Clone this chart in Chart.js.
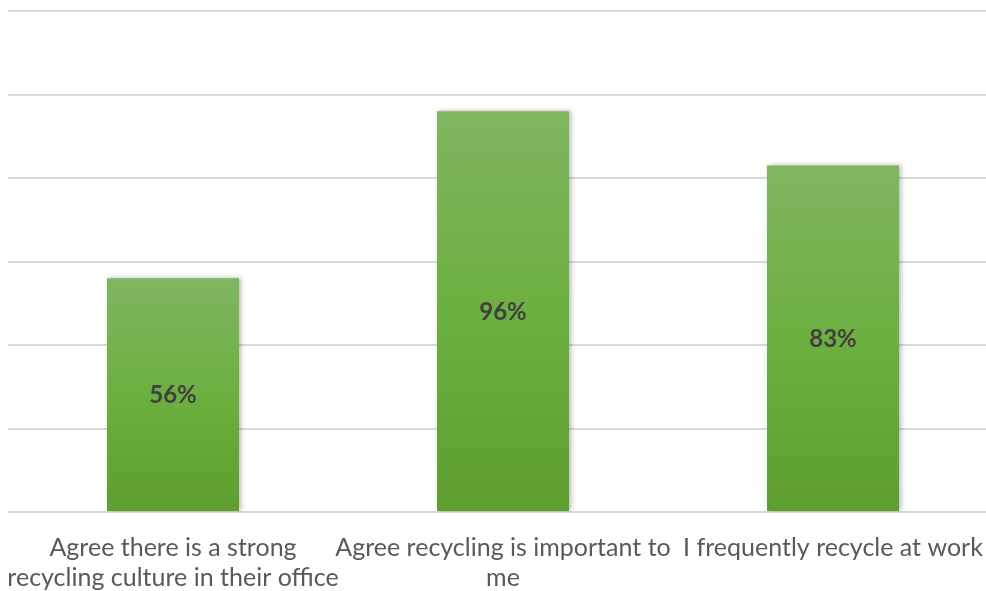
<!DOCTYPE html>
<html>
<head>
<meta charset="utf-8">
<script src="https://cdn.jsdelivr.net/npm/chart.js@4.4.0/dist/chart.umd.min.js"></script>
<style>
  html, body { margin: 0; padding: 0; background: #fff; overflow: hidden; }
  #wrap { position: absolute; left: 0; top: 0; width: 1000px; height: 600px; }
</style>
</head>
<body>
<div id="wrap"><canvas id="c"></canvas></div>
<script>
const categories = [
  ["Agree there is a strong", "recycling culture in their office"],
  ["Agree recycling is important to", "me"],
  ["I frequently recycle at work"]
];
const values = [0.56, 0.96, 0.83];
const valueLabels = ["56%", "96%", "83%"];
const yMax = 1.2;
const yStep = 0.2;

function barGradient(ctx) {
  const chart = ctx.chart;
  const sc = chart.scales && chart.scales.y;
  if (!chart.chartArea || !sc || ctx.type !== 'data') return '#6aab3e';
  const top = sc.getPixelForValue(ctx.raw);
  const base = sc.getPixelForValue(0);
  const g = chart.ctx.createLinearGradient(0, top, 0, base);
  g.addColorStop(0, '#80b660');
  g.addColorStop(0.5, '#6cb040');
  g.addColorStop(1, '#5e9f2f');
  return g;
}

const shadowPlugin = {
  id: 'shadow',
  beforeDatasetsDraw(chart) {
    const c = chart.ctx;
    c.save();
    c.shadowColor = 'rgba(0,0,0,0.28)';
    c.shadowBlur = 5;
    c.shadowOffsetX = 2;
    c.shadowOffsetY = 0;
  },
  afterDatasetsDraw(chart) {
    chart.ctx.restore();
    const c = chart.ctx;
    const meta = chart.getDatasetMeta(0);
    c.save();
    c.font = 'bold 24px Lato, "Open Sans", sans-serif';
    c.fillStyle = '#404040';
    c.textAlign = 'center';
    c.textBaseline = 'middle';
    meta.data.forEach((bar, i) => {
      const mid = (bar.y + bar.base) / 2;
      c.fillText(valueLabels[i], bar.x, mid + 1);
    });
    c.restore();
  }
};

new Chart(document.getElementById('c'), {
  type: 'bar',
  data: {
    labels: categories,
    datasets: [{
      data: values,
      backgroundColor: barGradient,
      borderWidth: 0,
      barPercentage: 0.4,
      categoryPercentage: 1.0
    }]
  },
  options: {
    responsive: true,
    maintainAspectRatio: false,
    animation: false,
    layout: { padding: { left: 8, right: 2, top: 11, bottom: 0 } },
    plugins: { legend: { display: false }, tooltip: { enabled: false } },
    scales: {
      x: {
        grid: { display: false },
        border: { display: false },
        afterFit(scale) {
          scale.paddingLeft = 0;
          scale.paddingRight = 0;
          scale.height = 88;
        },
        ticks: {
          color: '#595959',
          font: { family: 'Lato, "Open Sans", sans-serif', size: 25, lineHeight: 1.2 },
          padding: 13,
          maxRotation: 0,
          autoSkip: false
        }
      },
      y: {
        min: 0,
        max: yMax,
        ticks: { display: false, stepSize: yStep },
        grid: { color: '#d9d9d9', lineWidth: 2, drawTicks: false },
        border: { display: false },
        afterFit(scale) { scale.width = 0; }
      }
    }
  },
  plugins: [shadowPlugin]
});
</script>
</body>
</html>
